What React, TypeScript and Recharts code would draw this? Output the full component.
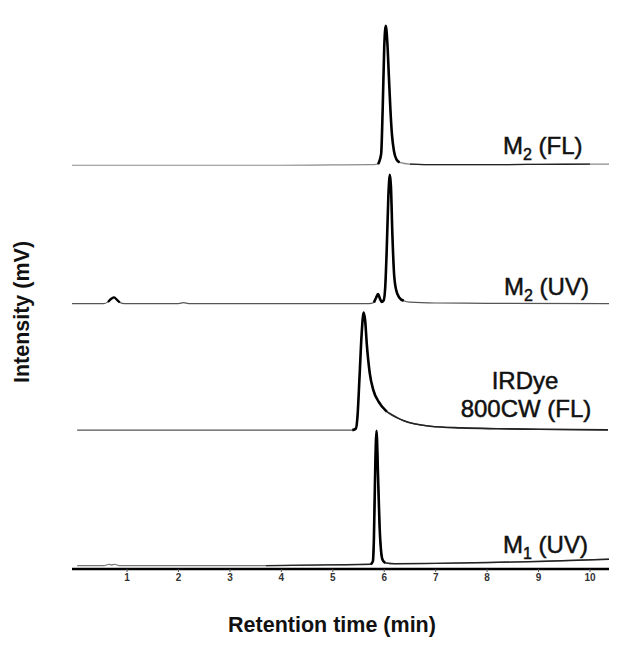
import { LineChart, Line, XAxis, YAxis } from "recharts";

// retention time (min) / signal (a.u., plot spans 0..100)
const m2FlTime = [-0.07, 1, 2, 3, 4, 5, 5.7, 5.88, 5.94, 5.97, 6.0, 6.03, 6.06, 6.09, 6.12, 6.15, 6.19, 6.24, 6.3, 6.5, 7, 8, 9, 10, 10.37];
const m2FlSignal = [0, 0, 0, 0, 0, 0.05, 0.1, 0.2, 2, 10, 21, 24.9, 22, 16, 10, 5.5, 2.5, 1, 0.5, 0.2, 0.1, 0.1, 0.15, 0.2, 0.2];

const m2UvTime = [-0.07, 0.55, 0.63, 0.7, 0.75, 0.8, 0.86, 0.95, 2.0, 2.1, 2.2, 5.7, 5.8, 5.84, 5.88, 5.92, 5.95, 5.99, 6.02, 6.05, 6.08, 6.11, 6.13, 6.16, 6.19, 6.23, 6.29, 6.38, 6.5, 7, 8, 10.37];
const m2UvSignal = [0, 0, 0.3, 0.9, 1.1, 0.7, 0.2, 0, 0, 0.15, 0, 0, 0.2, 1.0, 1.7, 0.8, 0.3, 0.6, 3, 10, 19, 23, 21, 12, 5.5, 2.5, 1.1, 0.5, 0.25, 0.1, 0.05, 0];

const irdyeTime = [0.03, 2, 4, 5.38, 5.45, 5.48, 5.52, 5.56, 5.6, 5.63, 5.66, 5.72, 5.79, 5.89, 6.05, 6.37, 6.89, 7.5, 8.2, 9.0, 10.35];
const irdyeSignal = [0, 0, 0, 0, 0.3, 2.4, 9.5, 17, 21, 19.5, 15.5, 10.1, 7.1, 5.1, 3.3, 1.7, 0.7, 0.4, 0.25, 0.15, 0.05];

const m1UvTime = [0.03, 0.55, 0.65, 0.7, 0.76, 0.85, 3.7, 4.5, 5.5, 5.74, 5.78, 5.8, 5.82, 5.85, 5.88, 5.91, 5.94, 5.97, 6.02, 6.2, 7, 8, 9, 10.37];
const m1UvSignal = [0, 0, 0.25, 0.1, 0.25, 0, 0, 0.1, 0.2, 0.25, 0.8, 5, 15, 24.1, 16, 7, 2.5, 1.0, 0.5, 0.35, 0.4, 0.55, 0.75, 1.15];

// vertical stacking of the traces
const traceOffsets = [72.1, 47.4, 24.8, 0.6];

// time windows drawn with a heavier pen: [from, to, width]
const m2FlPeaks = [[5.88, 6.35, 2.6], [6.35, 10.0, 1.3]];
const m2UvPeaks = [[0.58, 0.92, 2.2], [5.78, 6.45, 2.6]];
const irdyePeaks = [[5.38, 6.1, 2.6], [6.0, 10.35, 1.6]];
const m1UvPeaks = [[3.7, 10.37, 1.4], [5.72, 6.05, 2.6]];

const timeTicks = [1, 2, 3, 4, 5, 6, 7, 8, 9, 10];

const traces = [
  { key: "m2fl", time: m2FlTime, signal: m2FlSignal, peaks: m2FlPeaks, base: "#8a8a8a" },
  { key: "m2uv", time: m2UvTime, signal: m2UvSignal, peaks: m2UvPeaks, base: "#555" },
  { key: "irdye", time: irdyeTime, signal: irdyeSignal, peaks: irdyePeaks, base: "#555" },
  { key: "m1uv", time: m1UvTime, signal: m1UvSignal, peaks: m1UvPeaks, base: "#777" },
].map((tr, i) => ({
  ...tr,
  points: tr.time.map((t, j) => ({ t, v: tr.signal[j] + traceOffsets[i] })),
}));

const font = '"Liberation Sans", Arial, sans-serif';

function Label({ x, y, main, sub, rest, anchor = "start" }: any) {
  return (
    <text
      x={x}
      y={y}
      fontSize={24}
      fill="#111"
      stroke="#111"
      strokeWidth={0.5}
      textAnchor={anchor}
      fontFamily={font}
    >
      {main}
      {sub && (
        <tspan fontSize={16} dy={6}>
          {sub}
        </tspan>
      )}
      {rest && <tspan dy={sub ? -6 : 0}>{rest}</tspan>}
    </text>
  );
}

export default function App() {
  return (
    <div style={{ position: "absolute", left: 0, top: 0, width: 628, height: 649, background: "#fff" }}>
      <LineChart
        width={628}
        height={649}
        margin={{ top: 9, right: 19, bottom: 50, left: 72 }}
      >
        <XAxis
          type="number"
          dataKey="t"
          domain={[-0.07, 10.37]}
          allowDataOverflow
          ticks={timeTicks}
          height={30}
          axisLine={{ stroke: "#000", strokeWidth: 2.5 }}
          tickLine={{ stroke: "#555" }}
          tickSize={3}
          tickMargin={2}
          tick={{ fontSize: 10, fontWeight: "bold", fill: "#333", fontFamily: font }}
        />
        <YAxis
          type="number"
          domain={[0, 100]}
          allowDataOverflow
          width={0}
          tick={false}
          tickLine={false}
          axisLine={{ stroke: "#000", strokeWidth: 2 }}
        />
        {traces.map((tr) => (
          <Line
            key={tr.key}
            data={tr.points}
            dataKey="v"
            type="monotone"
            dot={false}
            stroke={tr.base}
            strokeWidth={1.2}
            isAnimationActive={false}
          />
        ))}
        {traces.flatMap((tr) =>
          tr.peaks.map(([a, b, w], k) => (
            <Line
              key={`${tr.key}-pk${k}`}
              data={tr.points.filter((p) => p.t >= a && p.t <= b)}
              dataKey="v"
              type="monotone"
              dot={false}
              stroke={w > 2 ? "#000" : "#222"}
              strokeWidth={w}
              isAnimationActive={false}
            />
          ))
        )}
      </LineChart>
      <svg
        width={628}
        height={649}
        style={{ position: "absolute", left: 0, top: 0, pointerEvents: "none" }}
      >
        <Label x={503} y={154} main="M" sub="2" rest=" (FL)" />
        <Label x={504} y={295} main="M" sub="2" rest=" (UV)" />
        <Label x={525} y={389} main="IRDye" anchor="middle" />
        <Label x={526} y={417} main="800CW (FL)" anchor="middle" />
        <Label x={503} y={553} main="M" sub="1" rest=" (UV)" />
        <text x={332} y={632} textAnchor="middle" fontSize={21.5} fontWeight="bold" fill="#111" fontFamily={font}>
          Retention time (min)
        </text>
        <text
          x={28.5}
          y={312}
          textAnchor="middle"
          fontSize={21.5}
          fontWeight="bold"
          fill="#111"
          fontFamily={font}
          transform="rotate(-90 28.5 312)"
        >
          Intensity (mV)
        </text>
      </svg>
    </div>
  );
}
